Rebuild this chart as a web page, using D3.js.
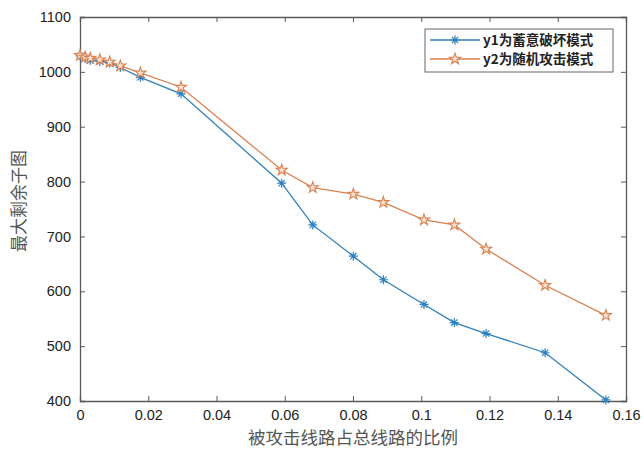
<!DOCTYPE html>
<html>
<head>
<meta charset="utf-8">
<script src="https://cdn.jsdelivr.net/npm/d3@7"></script>
<style>
    body { margin: 0; background: #fff; }
    .tick text { font-family: "Liberation Sans", Arial, sans-serif; }
</style>
</head>
<body>
<div class="chart"></div>
<script>
    // attacked share of lines (x)
    const ratios = [0, 0.0015, 0.003, 0.0058, 0.0087, 0.0118, 0.0177, 0.0296, 0.0591, 0.0682, 0.0801, 0.0889,
        0.1008, 0.1097, 0.119, 0.1363, 0.1541];
    // y1: deliberate attack, y2: random attack
    const y1Values = [1029, 1025, 1021, 1019, 1016, 1008, 990, 960, 797, 721, 664, 621, 576, 543, 523, 488, 402];
    const y2Values = [1030, 1027, 1025, 1022, 1018, 1011, 998, 972, 821, 789, 777, 762, 730, 721, 677, 611, 556];
    const seriesNames = ["y1为蓄意破坏模式", "y2为随机攻击模式"];
    const xTicks = [0, 0.02, 0.04, 0.06, 0.08, 0.1, 0.12, 0.14, 0.16];
    const yTicks = [400, 500, 600, 700, 800, 900, 1000, 1100];
    const xTitle = "被攻击线路占总线路的比例";
    const yTitle = "最大剩余子图";

    const COLORS = ["#2f80bd", "#d9814f"];

    let svg = d3.select(".chart").append("svg").attr("width", 644).attr("height", 449),
        margin = {top: 17, right: 18, bottom: 48, left: 80},
        width = 644 - margin.left - margin.right,
        height = 449 - margin.top - margin.bottom,
        g = svg.append("g").attr("transform", "translate(" + margin.left + "," + margin.top + ")");

    let x = d3.scaleLinear().domain([0, 0.16]).range([0, width]);
    let y = d3.scaleLinear().domain([400, 1100]).range([height, 0]);

    const axisColor = "#5a5a5a";

    // axes with inward ticks, MATLAB style
    g.append("g")
        .attr("transform", "translate(0," + height + ")")
        .call(d3.axisBottom(x).tickValues(xTicks).tickSize(-5).tickPadding(9)
            .tickFormat(function (d) { return String(+d.toFixed(2)); }))
        .call(styleAxis);
    g.append("g")
        .call(d3.axisTop(x).tickValues(xTicks).tickSize(-5).tickFormat(""))
        .call(styleAxis);
    g.append("g")
        .call(d3.axisLeft(y).tickValues(yTicks).tickSize(-5).tickPadding(9)
            .tickFormat(function (d) { return String(d); }))
        .call(styleAxis);
    g.append("g")
        .attr("transform", "translate(" + width + ",0)")
        .call(d3.axisRight(y).tickValues(yTicks).tickSize(-5).tickFormat(""))
        .call(styleAxis);

    function styleAxis(sel) {
        sel.select(".domain").attr("stroke", axisColor).attr("stroke-width", 1.3);
        sel.selectAll(".tick line").attr("stroke", axisColor);
        sel.selectAll(".tick text").attr("fill", "#222").attr("font-size", "14.5px");
    }

    let series = [y1Values, y2Values].map(function (vals) {
        return ratios.map(function (r, i) { return {x: r, y: vals[i]}; });
    });

    let line = d3.line().x(function (d) { return x(d.x); }).y(function (d) { return y(d.y); });

    series.forEach(function (data, k) {
        g.append("path").datum(data)
            .attr("fill", "none")
            .attr("stroke", COLORS[k])
            .attr("stroke-width", 1.3)
            .attr("d", line);
        g.append("g").selectAll("path")
            .data(data)
            .enter().append("path")
            .attr("transform", function (d) { return "translate(" + x(d.x) + "," + y(d.y) + ")"; })
            .call(k === 0 ? drawAsterisk : drawStar, COLORS[k]);
    });

    function drawAsterisk(sel, color) {
        let r = 4.5, q = r * 0.7;
        sel.attr("d", "M" + -r + ",0L" + r + ",0M0," + -r + "L0," + r +
            "M" + -q + "," + -q + "L" + q + "," + q + "M" + -q + "," + q + "L" + q + "," + -q)
            .attr("stroke", color).attr("stroke-width", 1.2).attr("fill", "none");
    }

    function drawStar(sel, color) {
        sel.attr("d", d3.symbol().type(d3.symbolStar).size(38)())
            .attr("stroke", color).attr("stroke-width", 1.1).attr("fill", "#fbe3d6");
    }

    // axis titles
    svg.append("text")
        .attr("x", margin.left + width / 2).attr("y", 444)
        .attr("text-anchor", "middle")
        .attr("font-family", "Noto Sans CJK SC").attr("font-size", "17.5px").attr("fill", "#555")
        .text(xTitle);
    svg.append("text")
        .attr("transform", "translate(25," + (margin.top + height / 2 - 8) + ") rotate(-90)")
        .attr("text-anchor", "middle")
        .attr("font-family", "Noto Sans CJK SC").attr("font-size", "17px").attr("fill", "#555")
        .text(yTitle);

    // legend
    let legend = svg.append("g").attr("transform", "translate(425,29)");
    legend.append("rect").attr("width", 188).attr("height", 43)
        .attr("fill", "#fff").attr("stroke", "#666").attr("stroke-width", 1);
    seriesNames.forEach(function (name, k) {
        let row = legend.append("g").attr("transform", "translate(0," + (11 + k * 19) + ")");
        row.append("line").attr("x1", 5).attr("x2", 55)
            .attr("stroke", COLORS[k]).attr("stroke-width", 1.3);
        row.append("path").attr("transform", "translate(30,0)")
            .call(k === 0 ? drawAsterisk : drawStar, COLORS[k]);
        row.append("text").attr("x", 58).attr("dy", "0.36em")
            .attr("font-family", "Noto Sans CJK SC").attr("font-weight", "bold")
            .attr("font-size", "13.5px").attr("fill", "#222")
            .text(name);
    });
</script>
</body>
</html>
